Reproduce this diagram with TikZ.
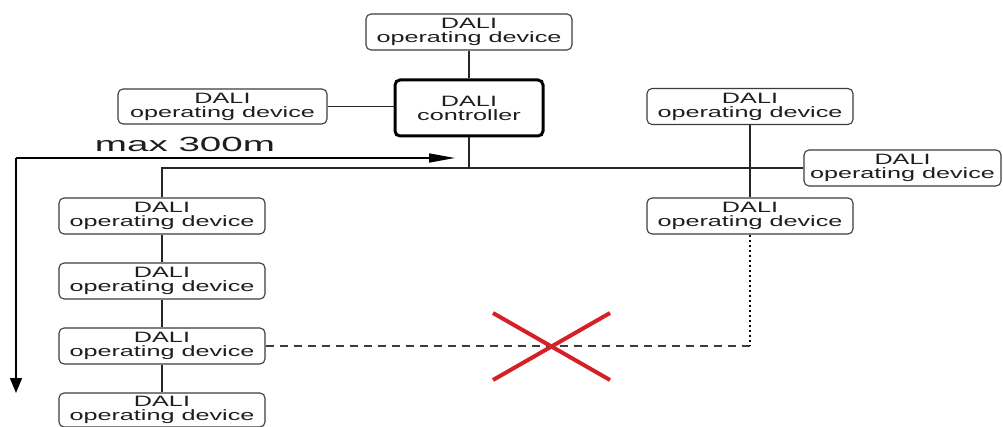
\documentclass[tikz,border=0pt]{standalone}
\usepackage{fontspec}
\setmainfont[FakeStretch=1.68]{Liberation Sans}
\usetikzlibrary{arrows.meta}
\definecolor{xred}{RGB}{214,32,39}
\definecolor{boxline}{RGB}{60,60,60}
\definecolor{txt}{RGB}{30,30,30}
\tikzset{
  dev/.style={draw=boxline, line width=1.1pt, rounded corners=5pt, minimum width=206pt,
    minimum height=36pt, inner sep=0pt, align=center, fill=white, text=txt,
    font=\fontsize{15}{14}\selectfont},
  ctrlbox/.style={dev, draw=black, line width=3pt, minimum width=148pt, minimum height=56pt},
  wire/.style={line width=2.4pt, draw=black!85},
  buswire/.style={line width=1.8pt, draw=black!85},
  cross/.style={draw=xred, line width=4pt}
}
\begin{document}
\begin{tikzpicture}[x=1pt,y=-1pt]
\useasboundingbox (0,0) rectangle (1003,427);
% nodes
\node[dev] (top) at (469,32) {DALI\\operating device};
\node[ctrlbox] (ctrl) at (469,108) {DALI\\controller};
\node[dev, minimum width=209pt, minimum height=35pt] (L) at (222.5,106.5) {DALI\\operating device};
\node[dev] (RT) at (750,106.5) {DALI\\operating device};
\node[dev, minimum width=197pt] (FR) at (902.5,168) {DALI\\operating device};
\node[dev] (RB) at (750,216) {DALI\\operating device};
\node[dev] (C1) at (162,216) {DALI\\operating device};
\node[dev] (C2) at (162,281) {DALI\\operating device};
\node[dev] (C3) at (162,346) {DALI\\operating device};
\node[dev, minimum height=34pt] (C4) at (162,410) {DALI\\operating device};
% connectors
\draw[wire] (top) -- (ctrl);
\draw[buswire] (L.east) -- (L.east -| ctrl.west);
\draw[wire] (ctrl.south) -- (ctrl.south |- FR.west);
\draw[buswire] (C1.north) |- (FR.west);
\draw[wire] (C1.north) -- ++(0,-30);
\draw[wire] (RT) -- (RB);
\draw[wire] (C1) -- (C2);
\draw[wire] (C2) -- (C3);
\draw[wire] (C3) -- (C4);
\coordinate (corner) at (C3.east -| RB.south);
\draw[boxline, line width=1.5pt, dash pattern=on 8pt off 6pt] (C3.east) -- (corner);
\draw[black, line width=2.4pt, dash pattern=on 2.5pt off 2.5pt] (RB.south) -- (corner);
% measurement arrows
\coordinate (o) at (16,158);
\coordinate (ah) at (455,158);
\coordinate (av) at (16,393);
\draw[line width=1.5pt, -{Triangle[length=26pt,width=9pt]}] (o) -- (ah);
\draw[line width=1.5pt, -{Triangle[length=15pt,width=12pt]}] (o) -- (av);
\node[font=\fontsize{20.5}{20}\selectfont, text=txt, anchor=base] (lbl) at (185,152) {\scalebox{1.12}[1]{max 300m}};
% red cross
\coordinate (x1) at (493,313);
\coordinate (x2) at (610,380);
\coordinate (x3) at (493,380);
\coordinate (x4) at (610,313);
\draw[cross] (x1) -- (x2);
\draw[cross] (x3) -- (x4);
\end{tikzpicture}
\end{document}
